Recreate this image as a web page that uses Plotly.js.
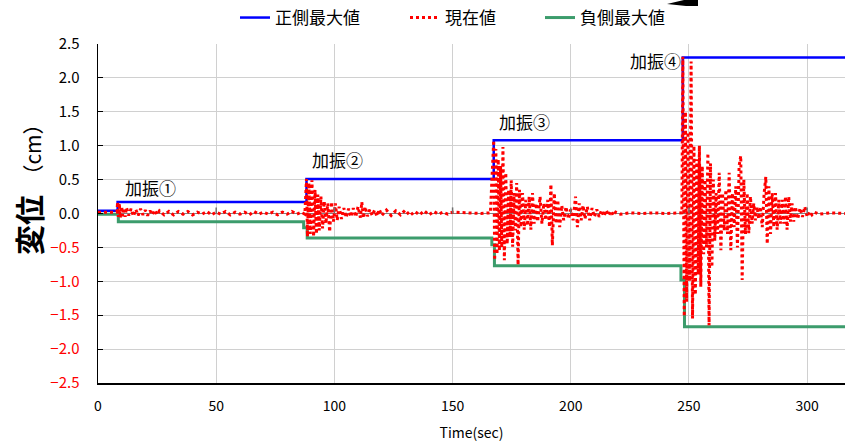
<!DOCTYPE html>
<html>
<head>
<meta charset="utf-8">
<script src="https://cdn.plot.ly/plotly-3.0.1.min.js"></script>
<style>body{margin:0;padding:0;background:#fff}#chart{width:845px;height:446px}</style>
</head>
<body>
<div id="chart"></div>
<script>
// ---- data ----
const seriesNames = ["正側最大値", "現在値", "負側最大値"];

const posMaxT = [0, 8.3, 88.2, 167.4, 247.4, 316];
const posMaxV = [0.04, 0.17, 0.51, 1.08, 2.30, 2.30];

const negMaxT = [0, 8.6, 87.0, 88.5, 166.6, 167.7, 246.6, 248.1, 316];
const negMaxV = [-0.01, -0.12, -0.21, -0.36, -0.46, -0.77, -0.98, -1.67, -1.67];

const curT = [
  0, 4, 8,
  8.3, 8.6, 9.0, 9.4, 10, 10.5, 11, 11.5, 12, 13, 14, 15, 16, 17, 18, 19, 20, 21, 22, 23, 24, 25,
  26, 28, 30, 32, 34, 36, 38, 40, 42, 44, 46, 48, 50, 52, 54, 56, 58, 60, 62, 64, 66, 68, 70, 72, 74, 76, 78, 80, 82, 84, 86, 87.5,
  88.2, 88.6, 89.2, 89.8, 90.5, 91.2, 91.8, 92.4, 93, 93.6, 94.3, 95, 95.7, 96.4, 97.2, 98, 98.8, 99.6, 100.4, 101.2,
  102, 103, 104, 105, 106, 107, 108, 109, 110, 111, 111.6, 112.3, 113, 114, 115, 116, 117, 118, 119, 120,
  122, 124, 126, 128, 130, 132, 134, 136, 138, 140, 142, 144, 146, 148, 150, 154, 158, 162, 166,
  167.4, 167.8, 168.3, 168.8, 169.3, 169.8, 170.3, 170.8, 171.3, 171.9, 172.5, 173.1, 173.7, 174.3, 174.8, 175.4,
  176, 176.6, 177.1, 177.7, 178.3, 178.9, 179.6, 180.3, 181, 181.7, 182.4, 183.1, 183.8, 184.5, 185.3, 186,
  187, 187.8, 188.6, 189.4, 190.2, 191, 191.6, 192.2, 193, 193.8, 194.5, 195.3, 196.2, 197, 198, 199, 200, 201,
  202, 202.8, 203.6, 204.4, 205.2, 206, 207, 208, 209, 210, 211, 212, 213, 214, 215, 216, 217, 218, 219, 221,
  225, 230, 235, 240, 245, 247,
  247.4, 248.0, 248.5, 249, 249.6, 250.2, 250.9, 251.5, 252.1, 252.7, 253.3, 253.9, 254.4, 255, 255.6, 256.2,
  256.8, 257.4, 258, 258.5, 259.1, 259.7, 260.3, 260.9, 261.5, 262.1, 262.8, 263.5, 264.2, 264.9, 265.6, 266.3,
  267, 267.7, 268.4, 269.1, 269.8, 270.5, 271.2, 271.9, 272.5, 273.2, 273.9, 274.6, 275.3, 276, 276.7, 277.4,
  278.1, 278.8, 279.5, 280.2, 281, 281.8, 282.5, 283.1, 283.8, 284.5, 285.2, 285.9, 286.6, 287.3, 288, 288.7,
  289.4, 290.1, 290.8, 291.5, 292.2, 292.9, 293.6, 294.3, 295, 296, 297, 298, 299, 300, 301, 302, 303, 305, 310, 316
];
const curV = [
  0.02, 0.02, 0.02,
  0.17, -0.05, 0.15, -0.06, 0.10, -0.04, 0.08, -0.05, 0.09, -0.03, 0.07, -0.04, 0.06, -0.03, 0.07, -0.02, 0.05, -0.03, 0.04, -0.02, 0.05, -0.02,
  0.04, -0.02, 0.03, -0.02, 0.03, -0.01, 0.03, -0.02, 0.02, -0.01, 0.03, -0.02, 0.02, -0.01, 0.03, -0.02, 0.02, -0.01, 0.02, -0.02, 0.03, -0.01, 0.02, -0.01, 0.02, -0.02, 0.02, -0.01, 0.03, -0.01, 0.02, -0.01,
  0.51, -0.34, 0.45, -0.30, 0.49, -0.34, 0.35, -0.30, 0.28, -0.25, 0.25, -0.22, 0.18, -0.15, 0.15, -0.27, 0.17, -0.12, 0.15, -0.10,
  0.10, -0.08, 0.08, -0.06, 0.07, -0.05, 0.08, -0.05, 0.10, -0.06, 0.17, -0.07, 0.10, -0.04, 0.06, -0.03, 0.05, -0.04, 0.06, -0.03,
  0.05, -0.03, 0.04, -0.02, 0.05, -0.03, 0.03, -0.02, 0.04, -0.02, 0.03, -0.01, 0.02, -0.01, 0.02, 0.01, 0.01, 0.00, 0.01,
  1.08, -0.69, 0.95, -0.60, 0.80, -0.55, 0.70, -0.50, 0.98, -0.69, 0.60, -0.45, 0.35, -0.35, 0.49, -0.49,
  0.30, -0.25, 0.45, -0.76, 0.35, -0.20, 0.30, -0.24, 0.20, -0.18, 0.25, -0.24, 0.30, -0.15, 0.15, -0.12,
  0.25, -0.15, 0.15, -0.10, 0.20, -0.20, 0.43, -0.47, 0.30, -0.15, 0.20, -0.20, 0.12, -0.10, 0.10, -0.08, 0.06, -0.10,
  0.25, -0.20, 0.15, -0.10, 0.12, -0.08, 0.10, -0.10, 0.08, -0.05, 0.06, -0.05, 0.05, -0.04, 0.05, -0.03, 0.04, -0.03, 0.02, -0.01,
  0.01, 0.00, 0.01, 0.00, 0.01, 0.01,
  2.31, -1.52, 1.50, -1.30, 1.20, -1.00, 2.24, -1.55, 1.00, -1.20, 0.80, -0.90, 1.00, -1.08, 0.70, -0.60,
  0.50, -0.50, 0.89, -1.65, 0.74, -0.79, 0.50, -0.40, 0.30, -0.30, 0.60, -0.54, 0.30, -0.25, 0.35, -0.30,
  0.60, -0.54, 0.30, -0.20, 0.40, -0.50, 0.70, 0.85, -0.98, 0.50, -0.30, 0.30, -0.29, 0.25, -0.15, 0.15,
  -0.10, 0.10, -0.08, 0.10, -0.20, 0.30, 0.54, -0.45, 0.40, -0.30, 0.30, -0.20, 0.30, -0.24, 0.20, -0.15,
  0.20, -0.15, 0.25, -0.24, 0.25, -0.12, 0.15, -0.12, 0.10, -0.08, 0.08, -0.05, 0.10, -0.05, 0.03, -0.02, 0.02, -0.01, 0.01, 0.00
];

const xTickVals = [0, 50, 100, 150, 200, 250, 300];
const yTickVals = [2.5, 2.0, 1.5, 1.0, 0.5, 0.0, -0.5, -1.0, -1.5, -2.0, -2.5];
const yTickLabels = ["2.5", "2.0", "1.5", "1.0", "0.5", "0.0", "−0.5", "−1.0", "−1.5", "−2.0", "−2.5"];

const eventLabels = ["加振①", "加振②", "加振③", "加振④"];
const eventX = [10.6, 89.6, 168.7, 224.0];
const eventY = [0.39, 0.79, 1.35, 2.25];

// ---- chart ----
const FONT = "Noto Sans CJK JP, Noto Sans, sans-serif";
const W = 845, H = 446, ML = 98, MT = 44, MB = 63;
const PW = W - ML, PH = H - MT - MB;
const px2x = p => (p - ML) / PW;
const py2y = p => (H - MB - p) / PH;

const legFont = {family: FONT, size: 17, color: "#000"};
const legBase = {orientation: "h", xanchor: "left", yanchor: "middle", y: py2y(18),
                 font: legFont, bgcolor: "rgba(0,0,0,0)"};

const traces = [
  {x: posMaxT, y: posMaxV, name: seriesNames[0], mode: "lines", line: {color: "#0000ff", width: 2.5, shape: "hv"}, legend: "legend"},
  {x: negMaxT, y: negMaxV, name: seriesNames[2], mode: "lines", line: {color: "#3c9c6c", width: 3, shape: "hv"}, legend: "legend3"},
  {x: curT, y: curV, name: seriesNames[1], mode: "lines", line: {color: "#ff0000", width: 3, dash: "dot"}, legend: "legend2"}
];

const yTickText = yTickLabels.map((t, i) => yTickVals[i] < 0 ? '<span style="color:#ff0000">' + t + '</span>' : t);

const annotations = eventLabels.map((t, i) => ({
  x: eventX[i], y: eventY[i], xref: "x", yref: "y", text: t, showarrow: false,
  xanchor: "left", yanchor: "middle", font: {family: FONT, size: 17, color: "#000"}
}));
annotations.push({
  x: px2x(28), y: py2y(184), xref: "paper", yref: "paper", textangle: -90, showarrow: false,
  text: '<b>変位</b><span style="font-size:21px">  （cm）</span>',
  font: {family: FONT, size: 30, color: "#000"}, xanchor: "center", yanchor: "middle"
});

// small tick marks on the zero line, at the x tick positions
const shapes = xTickVals.filter(v => v > 0).map(v => ({
  type: "line", xref: "x", yref: "y", x0: v, x1: v, y0: 0, y1: 0.09,
  line: {color: "#707070", width: 1.5}
}));
// cropped black arrow fragment at top edge
shapes.push({
  type: "path", xref: "paper", yref: "paper",
  path: "M " + px2x(667) + " " + py2y(4) + " L " + px2x(684) + " " + py2y(0) +
        " L " + px2x(698) + " " + py2y(0) + " L " + px2x(698) + " " + py2y(6) +
        " L " + px2x(686) + " " + py2y(6) + " Z",
  fillcolor: "#000", line: {width: 0}
});

const layout = {
  width: W, height: H,
  margin: {l: ML, r: 0, t: MT, b: MB},
  paper_bgcolor: "#fff", plot_bgcolor: "#fff",
  font: {family: FONT, size: 14, color: "#000"},
  showlegend: true,
  legend: Object.assign({}, legBase, {x: px2x(235)}),
  legend2: Object.assign({}, legBase, {x: px2x(405)}),
  legend3: Object.assign({}, legBase, {x: px2x(540)}),
  xaxis: {
    range: [0, 316], tickvals: xTickVals, ticktext: xTickVals.map(String),
    showgrid: true, gridcolor: "#d0d0d0", gridwidth: 1,
    showline: true, linecolor: "#000", linewidth: 1.5, zeroline: false,
    ticks: "", ticklabelstandoff: 10,
    tickfont: {family: FONT, size: 14, color: "#000"},
    title: {text: "Time(sec)", font: {family: FONT, size: 14, color: "#000"}, standoff: 14}
  },
  yaxis: {
    range: [-2.5, 2.5], tickvals: yTickVals, ticktext: yTickText,
    showgrid: true, gridcolor: "#d0d0d0", gridwidth: 1,
    showline: true, linecolor: "#000", linewidth: 1.5,
    zeroline: true, zerolinecolor: "#808080", zerolinewidth: 1.5,
    ticks: "inside", ticklen: 5, tickcolor: "#000", ticklabelstandoff: 14,
    tickfont: {family: FONT, size: 15, color: "#000"}
  },
  annotations: annotations,
  shapes: shapes
};

Plotly.newPlot("chart", traces, layout, {displayModeBar: false, staticPlot: true});
</script>
</body>
</html>
